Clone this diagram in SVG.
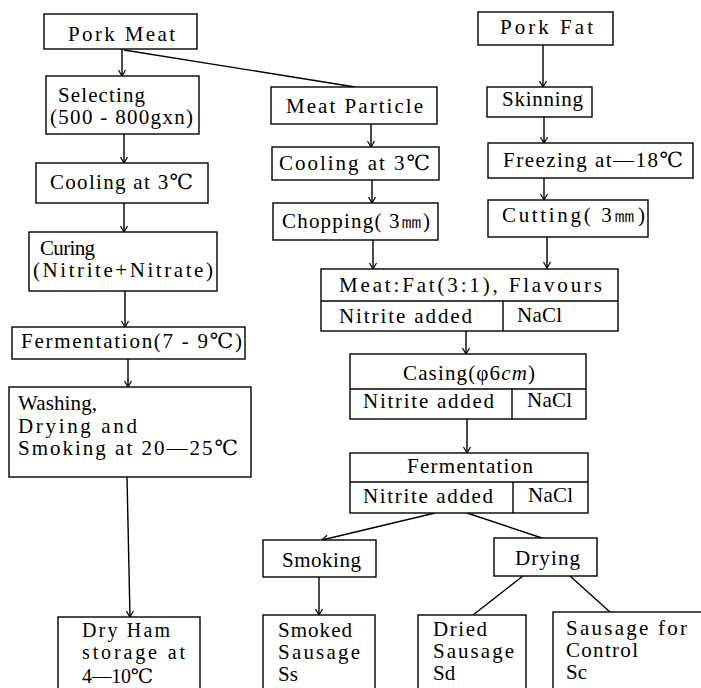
<svg xmlns="http://www.w3.org/2000/svg" width="701" height="688" viewBox="0 0 701 688" font-family="Liberation Serif, DejaVu Serif, serif" font-size="21">
<style>
.b{fill:#fff;stroke:#000;stroke-width:1.4}
.l{fill:none;stroke:#000;stroke-width:1.4}
text{fill:#000}
</style>
<defs>
<marker id="a" markerUnits="userSpaceOnUse" markerWidth="12" markerHeight="12" refX="0" refY="0" viewBox="-7 -6 8 12" orient="auto">
<path d="M-6,-3.5 L0,0 L-6,3.5" fill="none" stroke="#000" stroke-width="1.2"/>
</marker>
</defs>
<rect width="701" height="688" fill="#fff"/>
<g id="connectors">
<line class="l" x1="122" y1="49" x2="122" y2="76" marker-end="url(#a)"/>
<line class="l" x1="124" y1="50" x2="355" y2="87"/>
<line class="l" x1="124" y1="134" x2="124" y2="163" marker-end="url(#a)"/>
<line class="l" x1="124" y1="203" x2="124" y2="232" marker-end="url(#a)"/>
<line class="l" x1="125" y1="291" x2="125" y2="327" marker-end="url(#a)"/>
<line class="l" x1="128" y1="359" x2="128" y2="387" marker-end="url(#a)"/>
<line class="l" x1="127" y1="477" x2="130" y2="617" marker-end="url(#a)"/>
<line class="l" x1="371" y1="124" x2="371" y2="147" marker-end="url(#a)"/>
<line class="l" x1="372" y1="180" x2="372" y2="203" marker-end="url(#a)"/>
<line class="l" x1="373" y1="240" x2="373" y2="269" marker-end="url(#a)"/>
<line class="l" x1="543" y1="45" x2="543" y2="87" marker-end="url(#a)"/>
<line class="l" x1="544" y1="117" x2="544" y2="143" marker-end="url(#a)"/>
<line class="l" x1="544" y1="178" x2="544" y2="200" marker-end="url(#a)"/>
<line class="l" x1="547" y1="237" x2="547" y2="268" marker-end="url(#a)"/>
<line class="l" x1="466" y1="331" x2="466" y2="354" marker-end="url(#a)"/>
<line class="l" x1="467" y1="419" x2="467" y2="453" marker-end="url(#a)"/>
<line class="l" x1="435" y1="513" x2="322" y2="540" marker-end="url(#a)"/>
<line class="l" x1="467" y1="513" x2="542" y2="538"/>
<line class="l" x1="319" y1="577" x2="319" y2="615" marker-end="url(#a)"/>
<line class="l" x1="523" y1="576" x2="473" y2="615"/>
<line class="l" x1="570" y1="576" x2="610" y2="612"/>
</g>
<g id="pork-meat"><rect class="b" x="44" y="14" width="153" height="35"/><text x="68" y="41" textLength="107" lengthAdjust="spacing">Pork Meat</text></g>
<g id="selecting"><rect class="b" x="46" y="76" width="153" height="58"/><text x="58" y="102" textLength="87" lengthAdjust="spacing">Selecting</text><text x="50" y="124" textLength="143" lengthAdjust="spacing">(500 - 800gxn)</text></g>
<g id="cooling-left"><rect class="b" x="36" y="163" width="172" height="40"/><text x="50" y="189" textLength="143" lengthAdjust="spacing">Cooling at 3℃</text></g>
<g id="curing"><rect class="b" x="29" y="232" width="188" height="59"/><text x="40" y="255" textLength="55" lengthAdjust="spacing">Curing</text><text x="33" y="277" textLength="180" lengthAdjust="spacing">(Nitrite+Nitrate)</text></g>
<g id="fermentation-ham"><rect class="b" x="12" y="327" width="233" height="32"/><text x="21" y="348" textLength="221" lengthAdjust="spacing">Fermentation(7 - 9℃)</text></g>
<g id="washing"><rect class="b" x="9" y="387" width="242" height="90"/><text x="18" y="410" textLength="79" lengthAdjust="spacing">Washing,</text><text x="18" y="433" textLength="119" lengthAdjust="spacing">Drying and</text><text x="18" y="455" textLength="220" lengthAdjust="spacing">Smoking at 20—25℃</text></g>
<g id="dry-ham" font-size="20"><rect class="b" x="58" y="617" width="142" height="90"/><text x="82" y="637" textLength="88" lengthAdjust="spacing">Dry Ham</text><text x="82" y="659" textLength="103" lengthAdjust="spacing">storage at</text><text x="82" y="683" textLength="71" lengthAdjust="spacing">4—10℃</text></g>
<g id="meat-particle"><rect class="b" x="271" y="87" width="166" height="37"/><text x="286" y="113" textLength="137" lengthAdjust="spacing">Meat Particle</text></g>
<g id="cooling-mid"><rect class="b" x="272" y="147" width="167" height="33"/><text x="279" y="170" textLength="151" lengthAdjust="spacing">Cooling at 3℃</text></g>
<g id="chopping"><rect class="b" x="273" y="203" width="165" height="37"/><text x="282" y="228" textLength="148" lengthAdjust="spacing">Chopping( 3㎜)</text></g>
<g id="pork-fat"><rect class="b" x="478" y="12" width="135" height="33"/><text x="500" y="34" textLength="93" lengthAdjust="spacing">Pork Fat</text></g>
<g id="skinning"><rect class="b" x="487" y="87" width="105" height="30"/><text x="502" y="106" textLength="81" lengthAdjust="spacing">Skinning</text></g>
<g id="freezing"><rect class="b" x="488" y="143" width="205" height="35"/><text x="503" y="167" textLength="180" lengthAdjust="spacing">Freezing at—18℃</text></g>
<g id="cutting"><rect class="b" x="488" y="200" width="160" height="37"/><text x="502" y="222" textLength="143" lengthAdjust="spacing">Cutting( 3㎜)</text></g>
<g id="mixing"><rect class="b" x="321" y="269" width="297" height="62"/><line class="l" x1="321" y1="301" x2="618" y2="301"/><line class="l" x1="503" y1="301" x2="503" y2="331"/><text x="339" y="292" textLength="263" lengthAdjust="spacing">Meat:Fat(3:1), Flavours</text><text x="339" y="323" textLength="133" lengthAdjust="spacing">Nitrite added</text><text x="517" y="322" textLength="45" lengthAdjust="spacing">NaCl</text></g>
<g id="casing"><rect class="b" x="350" y="354" width="236" height="65"/><line class="l" x1="350" y1="389" x2="586" y2="389"/><line class="l" x1="512" y1="389" x2="512" y2="419"/><text x="403" y="380" textLength="132" lengthAdjust="spacing">Casing(φ6<tspan font-style="italic">cm</tspan>)</text><text x="363" y="408" textLength="131" lengthAdjust="spacing">Nitrite added</text><text x="527" y="407" textLength="45" lengthAdjust="spacing">NaCl</text></g>
<g id="fermentation"><rect class="b" x="350" y="453" width="238" height="60"/><line class="l" x1="350" y1="482" x2="588" y2="482"/><line class="l" x1="513" y1="482" x2="513" y2="513"/><text x="407" y="473" textLength="126" lengthAdjust="spacing">Fermentation</text><text x="363" y="503" textLength="130" lengthAdjust="spacing">Nitrite added</text><text x="528" y="502" textLength="45" lengthAdjust="spacing">NaCl</text></g>
<g id="smoking"><rect class="b" x="263" y="540" width="113" height="37"/><text x="282" y="567" textLength="79" lengthAdjust="spacing">Smoking</text></g>
<g id="drying"><rect class="b" x="494" y="538" width="103" height="38"/><text x="515" y="565" textLength="65" lengthAdjust="spacing">Drying</text></g>
<g id="smoked-sausage"><rect class="b" x="263" y="615" width="112" height="90"/><text x="278" y="637" textLength="74" lengthAdjust="spacing">Smoked</text><text x="278" y="659" textLength="82" lengthAdjust="spacing">Sausage</text><text x="278" y="681">Ss</text></g>
<g id="dried-sausage"><rect class="b" x="418" y="615" width="108" height="90"/><text x="433" y="636" textLength="54" lengthAdjust="spacing">Dried</text><text x="433" y="658" textLength="81" lengthAdjust="spacing">Sausage</text><text x="433" y="680">Sd</text></g>
<g id="control-sausage"><rect class="b" x="553" y="612" width="160" height="90"/><text x="566" y="635" textLength="121" lengthAdjust="spacing">Sausage for</text><text x="566" y="657" textLength="72" lengthAdjust="spacing">Control</text><text x="566" y="679">Sc</text></g>
</svg>
